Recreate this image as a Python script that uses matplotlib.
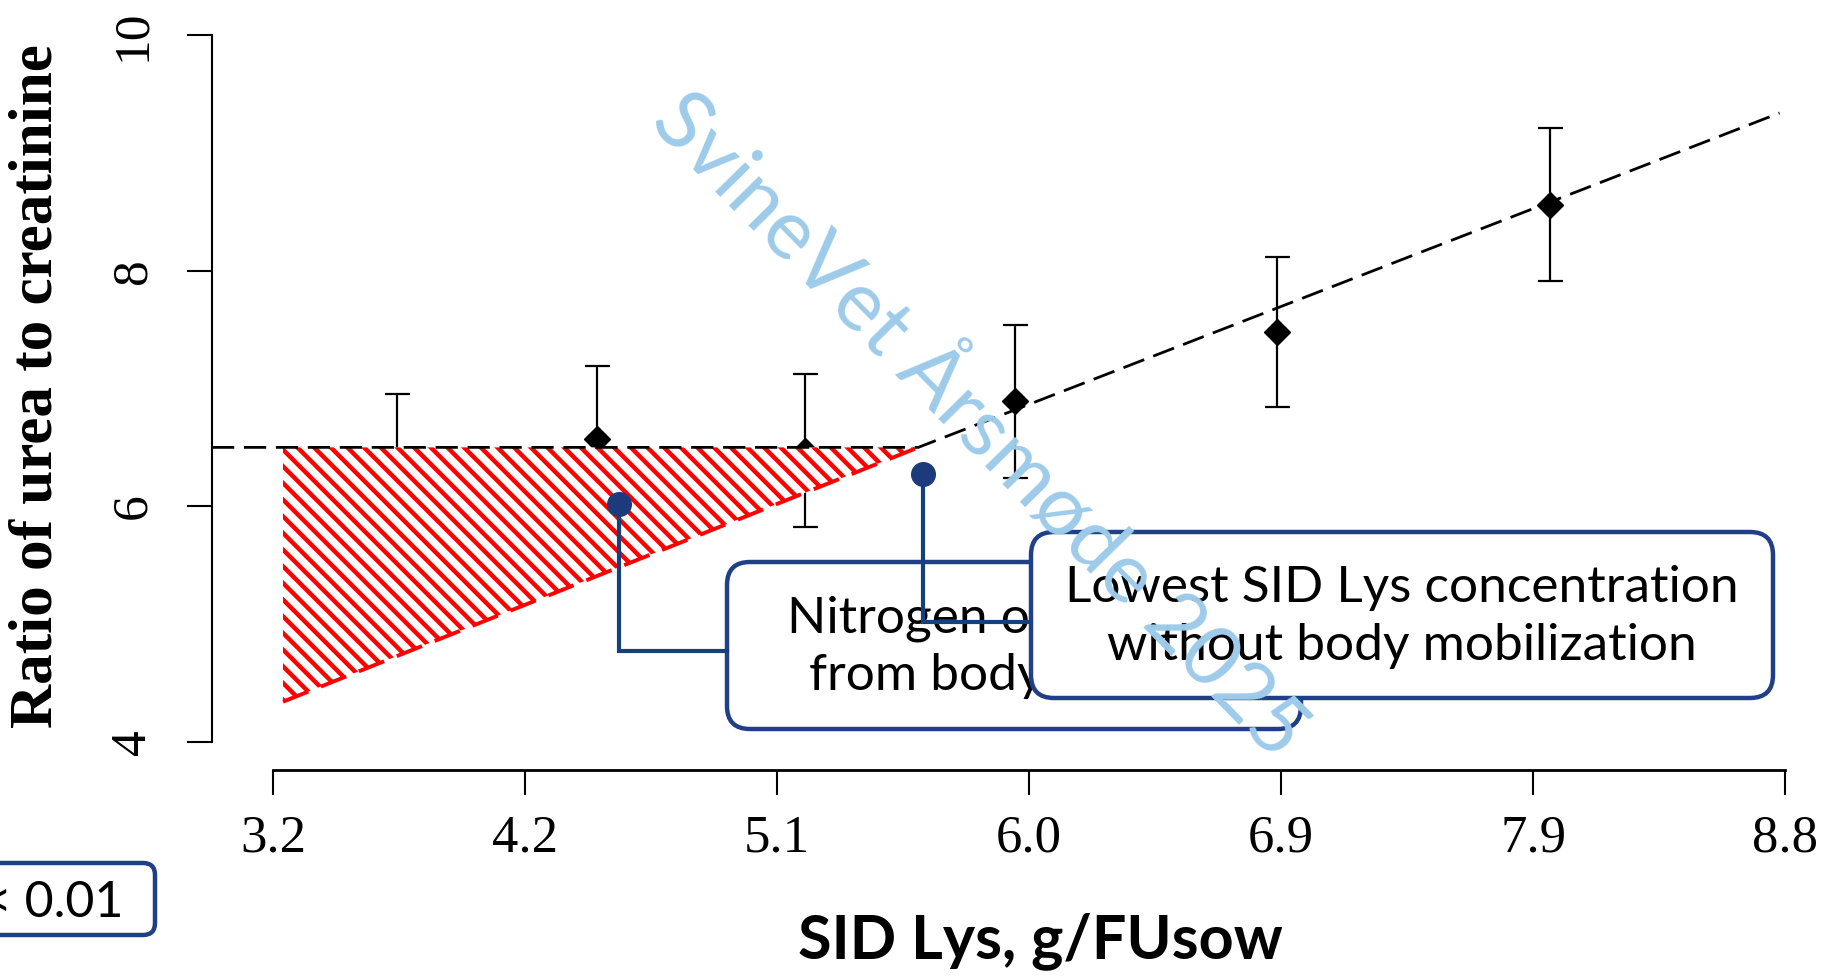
import matplotlib
matplotlib.use("Agg")
import matplotlib.pyplot as plt
import matplotlib.transforms as mtransforms
from matplotlib.patches import Polygon, FancyBboxPatch
import numpy as np

# ---------------- data ----------------
lys_levels = [3.66, 4.40, 5.17, 5.95, 6.92, 7.93]          # g SID Lys / FUsow
urea_creat_mean = [6.33, 6.57, 6.47, 6.89, 7.48, 8.56]     # ratio urea : creatinine
urea_creat_se = [0.62, 0.62, 0.65, 0.65, 0.635, 0.65]

x_ticks = [3.2, 4.133, 5.067, 6.0, 6.933, 7.867, 8.8]
x_ticklabels = ["3.2", "4.2", "5.1", "6.0", "6.9", "7.9", "8.8"]
y_ticks = [4, 6, 8, 10]
y_ticklabels = ["4", "6", "8", "10"]

# broken-line fit (plateau then linear increase)
fit_x = [2.974, 5.59, 8.78]
fit_y = [6.50, 6.50, 9.34]

# hatched area: nitrogen from body mobilisation
deficit_x = [3.237, 5.59, 3.237]
deficit_y = [6.50, 6.50, 4.34]

# callout markers (data coords) and where their leader lines turn / end
marker_x = [4.481, 5.607]
marker_y = [6.02, 6.27]
elbow_y = [4.769, 5.015]
box_edge_x = [4.881, 6.007]

box_texts = ["Nitrogen originating\nfrom body protein",
             "Lowest SID Lys concentration\nwithout body mobilization"]
p_text = "P < 0.01"
watermark = "SvineVet Årsmøde 2025"
xlabel = "SID Lys, g/FUsow"
ylabel = "Ratio of urea to creatinine"

# ---------------- style ----------------
W, H = 1830, 980
NAVY_BORDER = "#1f4088"
NAVY_LINE = "#15407a"
NAVY_DOT = "#1c3a7c"
WM_BLUE = "#9dcbe9"
SERIF = ["Liberation Serif", "DejaVu Serif"]
SANS = ["Lato", "DejaVu Sans"]

plt.rcParams["hatch.linewidth"] = 3.2

fig = plt.figure(figsize=(W / 100, H / 100), dpi=100)
fig.patch.set_facecolor("white")

# pixel transforms: (x from left, y from top) and (x from left, y from bottom)
pxT = mtransforms.Affine2D().scale(0.01, -0.01).translate(0, H / 100) + fig.dpi_scale_trans
pxU = mtransforms.Affine2D().scale(0.01) + fig.dpi_scale_trans

ax_l, ax_r, ax_t, ax_b = 212, 1830, 7, 770
ax = fig.add_axes([ax_l / W, (H - ax_b) / H, (ax_r - ax_l) / W, (ax_b - ax_t) / H])
ax.set_xlim(2.974, 8.967)
ax.set_ylim(3.76, 10.24)
ax.set_facecolor("none")

for s in ("top", "right"):
    ax.spines[s].set_visible(False)
ax.spines["left"].set_bounds(4, 10)
ax.spines["bottom"].set_bounds(3.2, 8.8)
ax.spines["left"].set_linewidth(1.5)
ax.spines["bottom"].set_linewidth(2.0)

ax.set_xticks(x_ticks, labels=x_ticklabels)
ax.set_yticks(y_ticks, labels=y_ticklabels)
ax.tick_params(axis="x", length=18, width=1.5, pad=14, labelsize=38)
ax.tick_params(axis="y", length=18, width=1.5, pad=22, labelsize=37, labelrotation=90)
for lab in ax.get_xticklabels() + ax.get_yticklabels():
    lab.set_fontfamily(SERIF)
for lab in ax.get_yticklabels():
    lab.set_va("center")

# error bars + diamonds
ax.errorbar(lys_levels, urea_creat_mean, yerr=urea_creat_se, fmt="none",
            ecolor="black", elinewidth=1.6, capsize=9, capthick=1.6, zorder=2)
ax.plot(lys_levels, urea_creat_mean, linestyle="none", marker="D",
        markersize=13.5, color="black", zorder=2.2)

# hatched deficit triangle
poly = Polygon(np.column_stack([deficit_x, deficit_y]), closed=True,
               facecolor="white", edgecolor="red", linewidth=0,
               hatch="\\\\", zorder=3)
ax.add_patch(poly)
ax.plot([deficit_x[2], deficit_x[1]], [deficit_y[2], deficit_y[1]],
        color="red", lw=2.8, dashes=(7, 3.5), zorder=3.5)

# broken-line fit
ax.plot(fit_x, fit_y, color="black", lw=2.0, dashes=(8, 3.5), zorder=4)

# callout boxes (pixel positions: left, top, right, bottom)
boxes_px = [(727, 562, 1301, 729), (1031, 532, 1773, 698)]
for i, ((x0, y0, x1, y1), txt) in enumerate(zip(boxes_px, box_texts)):
    z = 5 + 2 * i
    patch = FancyBboxPatch((x0, H - y1), x1 - x0, y1 - y0,
                           boxstyle="round,pad=0,rounding_size=23",
                           transform=pxU, facecolor="white",
                           edgecolor=NAVY_BORDER, lw=3.2, zorder=z, clip_on=False)
    ax.add_patch(patch)
    ax.text((x0 + x1) / 2, (y0 + y1) / 2 + 2, txt, transform=pxT, ha="center",
            va="center", multialignment="center", fontsize=37, family=SANS,
            linespacing=1.3, color="black", zorder=z + 0.1, clip_on=False)

# leader lines + dots (drawn between the two boxes)
for mx, my, ey, bx in zip(marker_x, marker_y, elbow_y, box_edge_x):
    ax.plot([mx, mx, bx], [my, ey, ey], color=NAVY_LINE, lw=3.0,
            solid_joinstyle="miter", zorder=6, clip_on=False)
ax.plot(marker_x, marker_y, linestyle="none", marker="o", markersize=17,
        color=NAVY_DOT, zorder=6.5)

# axis labels
ax.set_xlabel(xlabel, fontsize=44, fontweight="bold", family=SANS,
              ha="center", va="center")
ax.xaxis.set_label_coords(1040, 941, transform=pxT)
ax.set_ylabel(ylabel, fontsize=44, fontweight="bold", family=SERIF,
              ha="center", va="center")
ax.yaxis.set_label_coords(37, 386, transform=pxT)

# p-value box (cut at left edge)
pbox = FancyBboxPatch((-60, H - 935), 215, 72, boxstyle="round,pad=0,rounding_size=12",
                      transform=pxU, facecolor="white", edgecolor=NAVY_BORDER, lw=3.2)
fig.add_artist(pbox)
fig.text(123, 917, p_text, transform=pxT, ha="right", va="baseline",
         fontsize=36, family=SANS, color="black")

# watermark
fig.text(980, 425, watermark, transform=pxT, ha="center", va="center",
         rotation=-45.5, rotation_mode="anchor", fontsize=60, family=SANS,
         color=WM_BLUE, zorder=20)

fig.savefig("out.png", dpi=100, facecolor="white")
